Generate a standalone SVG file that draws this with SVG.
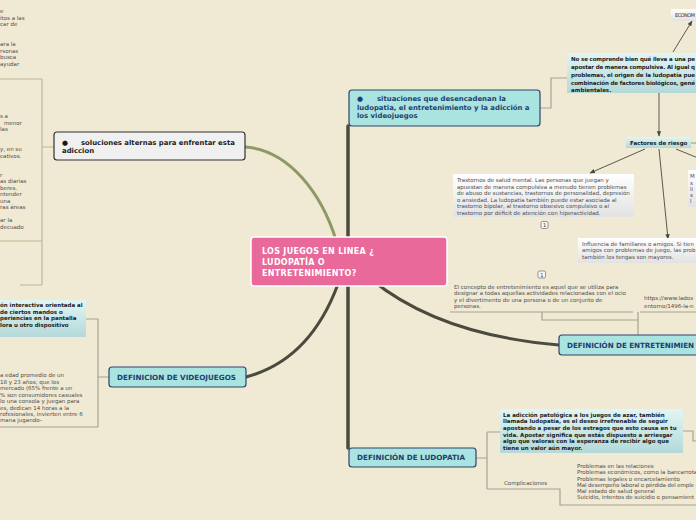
<svg xmlns="http://www.w3.org/2000/svg" width="696" height="520" viewBox="0 0 696 520">
<defs>
<linearGradient id="tealG" x1="0" y1="0" x2="0" y2="1"><stop offset="0" stop-color="#e2f5f5"/><stop offset="1" stop-color="#b4d9d9"/></linearGradient>
<linearGradient id="whiteG" x1="0" y1="0" x2="0" y2="1"><stop offset="0" stop-color="#ffffff"/><stop offset="1" stop-color="#e2e2e2"/></linearGradient>
<marker id="arr" viewBox="0 0 10 10" refX="9" refY="5" markerWidth="6" markerHeight="6" orient="auto"><path d="M0,1 L10,5 L0,9 z" fill="#4a4740"/></marker>
<style>
text{font-family:"DejaVu Sans","Liberation Sans",sans-serif}
.sm{font-size:5.5px;fill:#4e4e4e}
.smb{font-size:5.5px;font-weight:bold;fill:#1a1a1a}
.lbl{font-size:6.9px;font-weight:bold;fill:#1f3d6e}
.cap{font-size:7.2px;font-weight:bold;fill:#1f3d6e}
.trunk{fill:none;stroke:#4b4a3e;stroke-linecap:round}
.thin{fill:none;stroke:#a8a290;stroke-width:1.2}
.olv{fill:none;stroke:#bdb995;stroke-width:1.2}
.arl{fill:none;stroke:#4a4740;stroke-width:0.9}
.tealnode{fill:#a9e4e0;stroke:#2c4570;stroke-width:1.2}
</style>
</defs>
<rect width="696" height="520" fill="#f0e9d3"/>

<g id="connectors">
<path class="trunk" d="M348,240 L348,126" stroke-width="3.5"/>
<path class="trunk" d="M348,283 L348,448" stroke-width="3.5"/>
<path class="trunk" d="M338,284 Q310,360 246,377" stroke-width="3"/>
<path class="trunk" d="M372,280 Q440,335 559,345" stroke-width="3"/>
<path d="M336,240 C322,195 290,150 245,147" fill="none" stroke="#8e9a66" stroke-width="3" stroke-linecap="round"/>
<path class="thin" d="M540,108 H551 V78 H567"/>
<path class="arl" d="M673,52 L692,21" marker-end="url(#arr)"/>
<path class="arl" d="M659,92 V136" marker-end="url(#arr)"/>
<path class="arl" d="M645,149 L590,173" marker-end="url(#arr)"/>
<path class="arl" d="M659,149 L668,239" marker-end="url(#arr)"/>
<path class="arl" d="M676,149 L698,158"/>
<path class="thin" d="M691,143 H696"/>
<path class="thin" d="M450,312 H633 M640,312 H696 M542,312 V320 H638 M638,312 V335"/>
<path class="olv" d="M54,147 H42 M42,79 V285 M0,79 H42 M0,241 H42 M20,285 H42"/>
<path class="thin" d="M86,319 H98 V427 M0,427 H98 M98,377 H109"/>
<path class="thin" d="M476,458 H487 M487,432 V489 M487,432 H500 M487,489 H560 V505 H696 M683,431 H693 V441 H696"/>
</g>

<g id="center">
<rect x="251" y="237" width="196" height="49" rx="3" fill="#e8699a" stroke="#ffffff" stroke-width="1.5"/>
<text x="262" y="254" font-size="8" font-weight="bold" fill="#ffffff" letter-spacing="0.3">LOS JUEGOS EN LINEA ¿</text>
<text x="262" y="265" font-size="8" font-weight="bold" fill="#ffffff" letter-spacing="0.3">LUDOPATÍA O</text>
<text x="262" y="276" font-size="8" font-weight="bold" fill="#ffffff" letter-spacing="0.3">ENTRETENIMIENTO?</text>
</g>

<g id="situaciones">
<rect class="tealnode" x="349" y="90" width="191" height="36" rx="3"/>
<text class="lbl" x="357" y="101">●<tspan x="377">situaciones que desencadenan la</tspan></text>
<text class="lbl" x="357" y="109.5">ludopatia, el entretenimiento y la adicción a</text>
<text class="lbl" x="357" y="118">los videojuegos</text>
</g>

<g id="soluciones">
<rect x="54" y="132" width="191" height="28" rx="3" fill="#f0f0f0" stroke="#333333" stroke-width="1.2"/>
<text x="62" y="145" font-size="6.9" font-weight="bold" fill="#1a1a1a">●<tspan x="81">soluciones alternas para enfrentar esta</tspan></text>
<text x="62" y="153" font-size="6.9" font-weight="bold" fill="#1a1a1a">adiccion</text>
</g>

<g id="videojuegos">
<rect class="tealnode" x="109" y="367" width="137" height="20" rx="3"/>
<text class="cap" x="117" y="380">DEFINICION DE VIDEOJUEGOS</text>
</g>

<g id="entretenimiento">
<rect class="tealnode" x="559" y="335" width="145" height="20" rx="3"/>
<text class="cap" x="567" y="348" textLength="127">DEFINICIÓN DE ENTRETENIMIEN</text>
</g>

<g id="ludopatia">
<rect class="tealnode" x="349" y="448" width="127" height="19" rx="3"/>
<text class="cap" x="357" y="460">DEFINICIÓN DE LUDOPATIA</text>
</g>

<g id="economia">
<rect x="671" y="9" width="40" height="12" fill="url(#whiteG)"/>
<text x="675" y="17" font-size="5" fill="#333" textLength="20">ECONOM</text>
</g>

<g id="nose">
<rect x="567" y="53" width="140" height="40" fill="url(#tealG)"/>
<text class="smb" x="571" y="61" textLength="124">No se comprende bien qué lleva a una pe</text>
<text class="smb" x="571" y="69" textLength="124">apostar de manera compulsiva. Al igual q</text>
<text class="smb" x="571" y="77" textLength="124">problemas, el origen de la ludopatía pue</text>
<text class="smb" x="571" y="85" textLength="124">combinación de factores biológicos, gené</text>
<text class="smb" x="571" y="92">ambientales.</text>
</g>

<g id="factores">
<rect x="626" y="137" width="65" height="11" fill="url(#tealG)"/>
<text class="smb" x="630" y="145">Factores de riesgo</text>
</g>

<g id="trastornos">
<rect x="453" y="174" width="181" height="43" fill="url(#whiteG)"/>
<text class="sm" x="457" y="182">Trastornos de salud mental. Las personas que juegan y</text>
<text class="sm" x="457" y="188.5">apuestan de manera compulsiva a menudo tienen problemas</text>
<text class="sm" x="457" y="195">de abuso de sustancias, trastornos de personalidad, depresión</text>
<text class="sm" x="457" y="201.5">o ansiedad. La ludopatía también puede estar asociada al</text>
<text class="sm" x="457" y="208">trastorno bipolar, al trastorno obsesivo compulsivo o al</text>
<text class="sm" x="457" y="214.5">trastorno por déficit de atención con hiperactividad.</text>
<rect x="541" y="221.5" width="7" height="7" rx="1.5" fill="#f7f7f7" stroke="#555" stroke-width="0.6"/>
<text x="544.5" y="227" font-size="5" text-anchor="middle" fill="#333">1</text>
</g>

<g id="medicamentos">
<rect x="688" y="170" width="12" height="37" fill="url(#whiteG)"/>
<text class="sm" x="690" y="178">M</text>
<text class="sm" x="690" y="185">s</text>
<text class="sm" x="690" y="191">li</text>
<text class="sm" x="690" y="197">s</text>
<text class="sm" x="690" y="203">l</text>
</g>

<g id="influencia">
<rect x="578" y="238" width="130" height="25" fill="url(#whiteG)"/>
<text class="sm" x="582" y="245.5">Influencia de familiares o amigos. Si tien</text>
<text class="sm" x="582" y="252">amigos con problemas de juego, las prob</text>
<text class="sm" x="582" y="258.5">también los tengas son mayores.</text>
<rect x="538" y="271" width="7.5" height="7" rx="1.5" fill="#f7f7f7" stroke="#555" stroke-width="0.6"/>
<text x="541.8" y="276.5" font-size="5" text-anchor="middle" fill="#333">1</text>
</g>

<g id="concepto">
<text class="sm" x="454" y="288.5">El concepto de entretenimiento es aquel que se utiliza para</text>
<text class="sm" x="454" y="295">designar a todas aquellas actividades relacionadas con el ocio</text>
<text class="sm" x="454" y="301.5">y el divertimento de una persona o de un conjunto de</text>
<text class="sm" x="454" y="308">personas.</text>
</g>

<g id="enlace">
<text class="sm" x="644" y="300">https://www.lados</text>
<text class="sm" x="644" y="307.5">entorno/1496-la-n</text>
</g>

<g id="definicionludo">
<rect x="500" y="409" width="183" height="44" fill="url(#tealG)"/>
<text class="smb" x="503" y="416.5">La adicción patológica a los juegos de azar, también</text>
<text class="smb" x="503" y="423">llamada ludopatía, es el deseo irrefrenable de seguir</text>
<text class="smb" x="503" y="430">apostando a pesar de los estragos que esto causa en tu</text>
<text class="smb" x="503" y="436.5">vida. Apostar significa que estás dispuesto a arriesgar</text>
<text class="smb" x="503" y="443">algo que valoras con la esperanza de recibir algo que</text>
<text class="smb" x="503" y="449.5">tiene un valor aún mayor.</text>
</g>

<g id="complicaciones">
<text class="sm" x="504" y="485">Complicaciones</text>
<text class="sm" x="577" y="468">Problemas en las relaciones</text>
<text class="sm" x="577" y="474">Problemas económicos, como la bancarrota</text>
<text class="sm" x="577" y="480.5">Problemas legales o encarcelamiento</text>
<text class="sm" x="577" y="486.5" textLength="117">Mal desempeño laboral o pérdida del emple</text>
<text class="sm" x="577" y="493">Mal estado de salud general</text>
<text class="sm" x="577" y="499" textLength="117">Suicidio, intentos de suicidio o pensamient</text>
</g>

<g id="izq-arriba">
<text class="sm" x="0" y="13">e</text>
<text class="sm" x="0" y="19.5">itos a las</text>
<text class="sm" x="0" y="26">car de</text>
<text class="sm" x="0" y="46">ara la</text>
<text class="sm" x="0" y="52.5">rsonas</text>
<text class="sm" x="0" y="59">busca</text>
<text class="sm" x="0" y="65.5">ayudar</text>
</g>

<g id="izq-medio">
<text class="sm" x="0" y="118">s a</text>
<text class="sm" x="4" y="124.5">menor</text>
<text class="sm" x="0" y="131">las</text>
<text class="sm" x="0" y="151">y, en su</text>
<text class="sm" x="0" y="157.5">cativos.</text>
<text class="sm" x="0" y="176.5">r</text>
<text class="sm" x="0" y="183">as diarias</text>
<text class="sm" x="0" y="189.5">beres.</text>
<text class="sm" x="0" y="196">ntender</text>
<text class="sm" x="0" y="202.5">una</text>
<text class="sm" x="0" y="209">ras áreas</text>
<text class="sm" x="0" y="222">ar la</text>
<text class="sm" x="0" y="228.5">decuado</text>
</g>

<g id="izq-video">
<rect x="-10" y="300" width="96" height="37" fill="url(#tealG)"/>
<text class="smb" x="0" y="307">ón interactiva orientada al</text>
<text class="smb" x="0" y="313.5">de ciertos mandos o</text>
<text class="smb" x="0" y="320">periencias en la pantalla</text>
<text class="smb" x="0" y="326.5">lora u otro dispositivo</text>
</g>

<g id="izq-abajo">
<text class="sm" x="0" y="377">a edad promedio de un</text>
<text class="sm" x="0" y="383.5">18 y 23 años; que los</text>
<text class="sm" x="0" y="390">mercado (65% frente a un</text>
<text class="sm" x="0" y="396.5">% son consumidores casuales</text>
<text class="sm" x="0" y="403">lo una consola y juegan para</text>
<text class="sm" x="0" y="409.5">es, dedican 14 horas a la</text>
<text class="sm" x="0" y="416">rofesionales, invierten entre 6</text>
<text class="sm" x="0" y="422">mana jugando–</text>
</g>
</svg>
